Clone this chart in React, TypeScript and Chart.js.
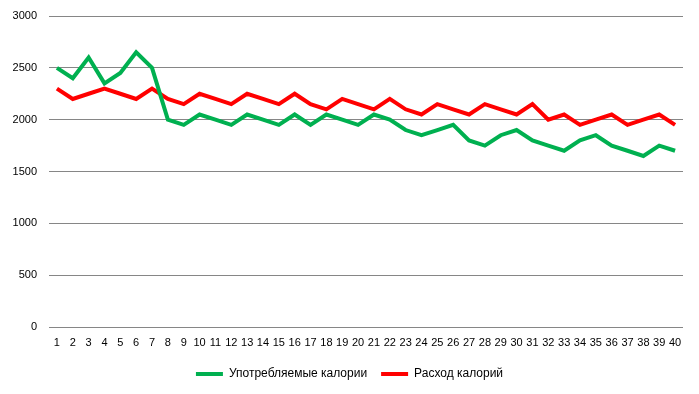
import React, { useEffect, useRef } from "react";
import { Chart, registerables } from "chart.js";

Chart.register(...registerables);

const days: string[] = Array.from({ length: 40 }, (_, i) => String(i + 1));

const consumed: number[] = [
  2500, 2400, 2600, 2350, 2450, 2650, 2500, 2000, 1950, 2050,
  2000, 1950, 2050, 2000, 1950, 2050, 1950, 2050, 2000, 1950,
  2050, 2000, 1900, 1850, 1900, 1950, 1800, 1750, 1850, 1900,
  1800, 1750, 1700, 1800, 1850, 1750, 1700, 1650, 1750, 1700,
];

const burned: number[] = [
  2300, 2200, 2250, 2300, 2250, 2200, 2300, 2200, 2150, 2250,
  2200, 2150, 2250, 2200, 2150, 2250, 2150, 2100, 2200, 2150,
  2100, 2200, 2100, 2050, 2150, 2100, 2050, 2150, 2100, 2050,
  2150, 2000, 2050, 1950, 2000, 2050, 1950, 2000, 2050, 1950,
];

const seriesNames: string[] = ["Употребляемые калории", "Расход калорий"];

const FONT = "'Liberation Sans', Arial, sans-serif";

const legendShift = {
  id: "legendShift",
  afterLayout(chart: any) {
    const lg = chart.legend;
    if (lg) {
      lg.left += 16;
    }
  },
};

export default function App() {
  const ref = useRef<HTMLCanvasElement | null>(null);

  useEffect(() => {
    if (!ref.current) return;
    const chart = new Chart(ref.current, {
      type: "line",
      data: {
        labels: days,
        datasets: [
          {
            label: seriesNames[0],
            data: consumed,
            borderColor: "#00B050",
            backgroundColor: "#00B050",
            borderWidth: 4,
            pointRadius: 0,
            tension: 0,
          },
          {
            label: seriesNames[1],
            data: burned,
            borderColor: "#FF0000",
            backgroundColor: "#FF0000",
            borderWidth: 4,
            pointRadius: 0,
            tension: 0,
          },
        ],
      },
      plugins: [legendShift],
      options: {
        responsive: false,
        animation: false,
        layout: { padding: { top: 16, right: 16, bottom: 4, left: 0 } },
        plugins: {
          tooltip: { enabled: false },
          legend: {
            position: "bottom",
            labels: {
              boxWidth: 27,
              boxHeight: 4,
              padding: 14,
              color: "#000",
              font: { family: FONT, size: 12 },
              generateLabels: (c: any) =>
                Chart.defaults.plugins.legend.labels
                  .generateLabels(c)
                  .map((it: any) => ({ ...it, lineWidth: 0 })),
            },
          },
        },
        scales: {
          x: {
            offset: true,
            grid: { display: false, drawTicks: false },
            border: { display: false },
            ticks: {
              autoSkip: false,
              maxRotation: 0,
              padding: 9,
              color: "#000",
              font: { family: FONT, size: 11 },
            },
            afterFit: (s: any) => {
              s.height = 27;
            },
          },
          y: {
            min: 0,
            max: 3000,
            grid: { color: "#868686", lineWidth: 1, drawTicks: false },
            border: { display: false },
            ticks: {
              stepSize: 500,
              padding: 12,
              color: "#000",
              font: { family: FONT, size: 11 },
              callback: (v: any) => String(v),
            },
            afterFit: (s: any) => {
              s.width = 49;
              s.paddingTop = 4;
            },
          },
        },
      },
    });
    return () => chart.destroy();
  }, []);

  return (
    <div style={{ position: "absolute", left: 0, top: 0, width: 699, height: 394, background: "#fff" }}>
      <canvas ref={ref} width={699} height={394} />
    </div>
  );
}
